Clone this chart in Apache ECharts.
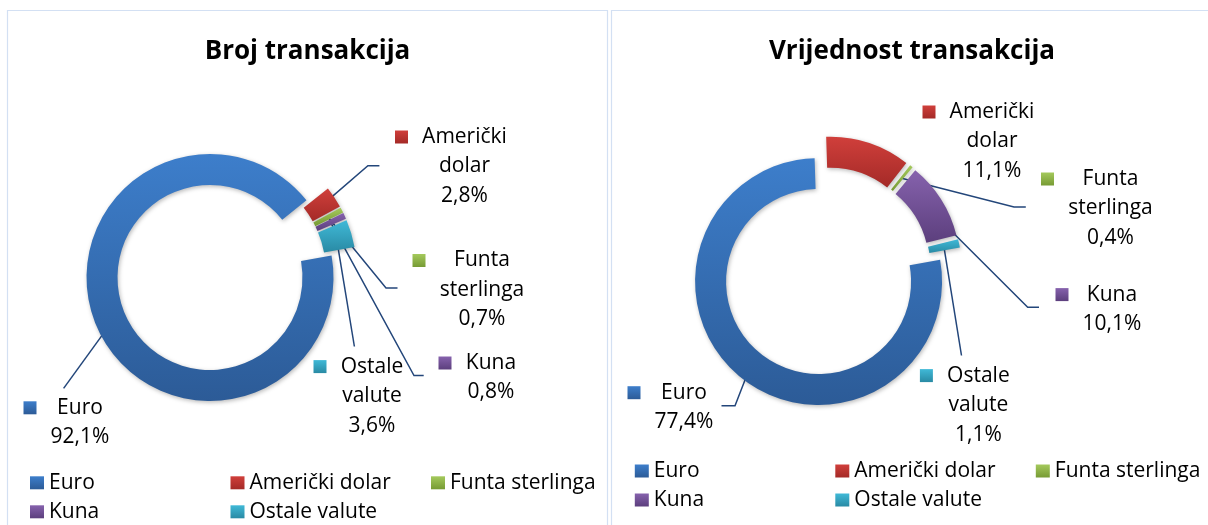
<!DOCTYPE html>
<html>
<head>
<meta charset="utf-8">
<script src="https://cdn.jsdelivr.net/npm/echarts@6/dist/echarts.min.js"></script>
<style>
html,body{margin:0;padding:0;background:#ffffff;}
#chart{width:1208px;height:525px;}
</style>
</head>
<body>
<div id="chart"></div>
<script>
// ---------- DATA ----------
const categories = ['Euro', 'Američki dolar', 'Funta sterlinga', 'Kuna', 'Ostale valute'];
const brojTransakcija = [92.1, 2.8, 0.7, 0.8, 3.6];
const vrijednostTransakcija = [77.4, 11.1, 0.4, 10.1, 1.1];
const chartTitles = ['Broj transakcija', 'Vrijednost transakcija'];

// ---------- STYLE / LAYOUT ----------
const FONT = '"Open Sans", "Liberation Sans", sans-serif';
const FS = 21;
const LH = 29.5;
const colorsTop = ['#3D7ECB', '#D03F3B', '#A4C95C', '#8662AD', '#40B9D7'];
const colorsBottom = ['#2C5B97', '#A42A27', '#779B34', '#5C3F7D', '#298AA4'];
const lineColor = '#23467A';
const explode = 12.3;
const radii = [92.5, 123.5];

const panels = [
  {
    values: brojTransakcija,
    center: [221.2, 272.4],
    titleX: 307.5,
    legendLeft: 30,
    legendTop: 468.3,
    labels: [
      { x: 80,    y: 407.8, line: [[63.6, 388.4]] },
      { x: 464.5, y: 137,   line: [[367.9, 165.7], [379.4, 165.7]] },
      { x: 482,   y: 260.5, line: [[386, 288], [397.5, 288]] },
      { x: 491,   y: 363,   line: [[414, 375.6], [423.7, 375.6]] },
      { x: 372,   y: 366.6, line: [[354.4, 346.5]] }
    ]
  },
  {
    values: vrijednostTransakcija,
    center: [826.3, 272],
    titleX: 912,
    legendLeft: 634.8,
    legendTop: 456.5,
    labels: [
      { x: 684,    y: 392.7, line: [[735, 405.8], [721.5, 405.8]] },
      { x: 992,    y: 112,   line: null },
      { x: 1110.5, y: 179,   line: [[1014, 207], [1025.8, 207]] },
      { x: 1112,   y: 294.6, line: [[1027.7, 307.3], [1039, 307.3]] },
      { x: 978.4,  y: 375.6, line: [[961.5, 355.5]] }
    ]
  }
];

const grad = i => new echarts.graphic.LinearGradient(0, 0, 0, 1, [
  { offset: 0, color: colorsTop[i] },
  { offset: 1, color: colorsBottom[i] }
]);

const measureCtx = document.createElement('canvas').getContext('2d');
measureCtx.font = FS + 'px ' + FONT;
const pct = v => v.toFixed(1).replace('.', ',') + '%';

function buildLabel(name, value, idx) {
  const lines = name.split(' ').concat([pct(value)]);
  let maxW = 0;
  lines.forEach(l => { maxW = Math.max(maxW, measureCtx.measureText(l).width); });
  const text = lines.map((l, k) => (k === 0 ? '{sq|}' : '{e|}') + '{g|}{t|' + l + '}{p|}').join('\n');
  const base = { align: 'center', lineHeight: LH };
  return {
    show: true,
    formatter: () => text,
    rich: {
      sq: Object.assign({ width: 13, height: 13, backgroundColor: grad(idx) }, base),
      e: Object.assign({ width: 13 }, base),
      g: Object.assign({ width: 13.5 }, base),
      p: Object.assign({ width: 26.5 }, base),
      t: Object.assign({ width: Math.ceil(maxW) + 1, fontSize: FS, fontFamily: FONT, color: '#000' }, base)
    }
  };
}

const chart = echarts.init(document.getElementById('chart'), null, { renderer: 'canvas' });

function makeLabelLayout(pi) {
  return function (params) {
    const L = panels[pi].labels[params.dataIndex];
    const res = { x: L.x, y: L.y - LH / 2, align: 'center', verticalAlign: 'top' };
    if (L.line) {
      try {
        const lay = chart.getModel().getSeriesByIndex(params.seriesIndex).getData().getItemLayout(params.dataIndex);
        const mid = (lay.startAngle + lay.endAngle) / 2;
        const rm = (lay.r + lay.r0) / 2;
        const sx = lay.cx + Math.cos(mid) * (rm + explode);
        const sy = lay.cy + Math.sin(mid) * (rm + explode);
        res.labelLinePoints = [[sx, sy]].concat(L.line);
      } catch (e) { /* keep default line */ }
    }
    return res;
  };
}

const series = [];
panels.forEach((p, pi) => {
  // visible exploded donut
  series.push({
    type: 'pie',
    name: chartTitles[pi],
    center: p.center,
    radius: radii,
    startAngle: 10.2,
    clockwise: true,
    selectedMode: 'multiple',
    selectedOffset: explode,
    avoidLabelOverlap: false,
    emphasis: { scale: false },
    itemStyle: { shadowBlur: 4, shadowColor: 'rgba(0,0,0,0.28)', shadowOffsetX: 1, shadowOffsetY: 1.5 },
    label: { show: false },
    labelLine: { show: false },
    data: categories.map((name, i) => ({
      name: name,
      value: p.values[i],
      selected: true,
      itemStyle: { color: grad(i) },
      select: { itemStyle: { color: grad(i) } }
    }))
  });
  // same donut, transparent, carrying the data labels
  series.push({
    type: 'pie',
    name: chartTitles[pi] + ' labels',
    center: p.center,
    radius: radii,
    startAngle: 10.2,
    clockwise: true,
    silent: true,
    selectedMode: false,
    avoidLabelOverlap: false,
    emphasis: { disabled: true, scale: false },
    itemStyle: { color: 'rgba(0,0,0,0)', borderWidth: 0 },
    label: { show: true, position: 'outside', fontFamily: FONT, fontSize: FS, color: '#000' },
    labelLine: { show: true, length: 10, length2: 10, lineStyle: { color: lineColor, width: 1.5 } },
    labelLayout: makeLabelLayout(pi),
    data: categories.map((name, i) => ({
      name: name,
      value: p.values[i],
      label: buildLabel(name, p.values[i], i),
      labelLine: { show: p.labels[i].line != null }
    }))
  });
});

const option = {
  backgroundColor: '#ffffff',
  animation: false,
  title: panels.map((p, i) => ({
    text: chartTitles[i],
    left: p.titleX,
    top: 51.5,
    textAlign: 'center',
    textVerticalAlign: 'middle',
    padding: 0,
    textStyle: { fontFamily: FONT, fontSize: 26, fontWeight: 'bold', color: '#000' }
  })),
  legend: panels.map(p => ({
    data: categories.map((name, i) => ({ name: name, itemStyle: { color: grad(i) } })),
    orient: 'horizontal',
    left: p.legendLeft,
    top: p.legendTop,
    width: 620,
    padding: 0,
    itemGap: 0,
    itemWidth: 14,
    itemHeight: 13,
    icon: 'rect',
    selectedMode: false,
    itemStyle: { shadowBlur: 0, shadowColor: 'transparent', borderWidth: 0 },
    textStyle: { fontFamily: FONT, fontSize: FS, color: '#000', width: 181.5, lineHeight: 29 }
  })),
  graphic: [
    { type: 'rect', silent: true, z: -10, shape: { x: 7.5, y: 10.5, width: 600, height: 530 },
      style: { fill: null, stroke: '#D3E0F3', lineWidth: 1.2 } },
    { type: 'rect', silent: true, z: -10, shape: { x: 611.5, y: 10.5, width: 610, height: 530 },
      style: { fill: null, stroke: '#D3E0F3', lineWidth: 1.2 } }
  ],
  series: series
};

chart.setOption(option);
</script>
</body>
</html>
